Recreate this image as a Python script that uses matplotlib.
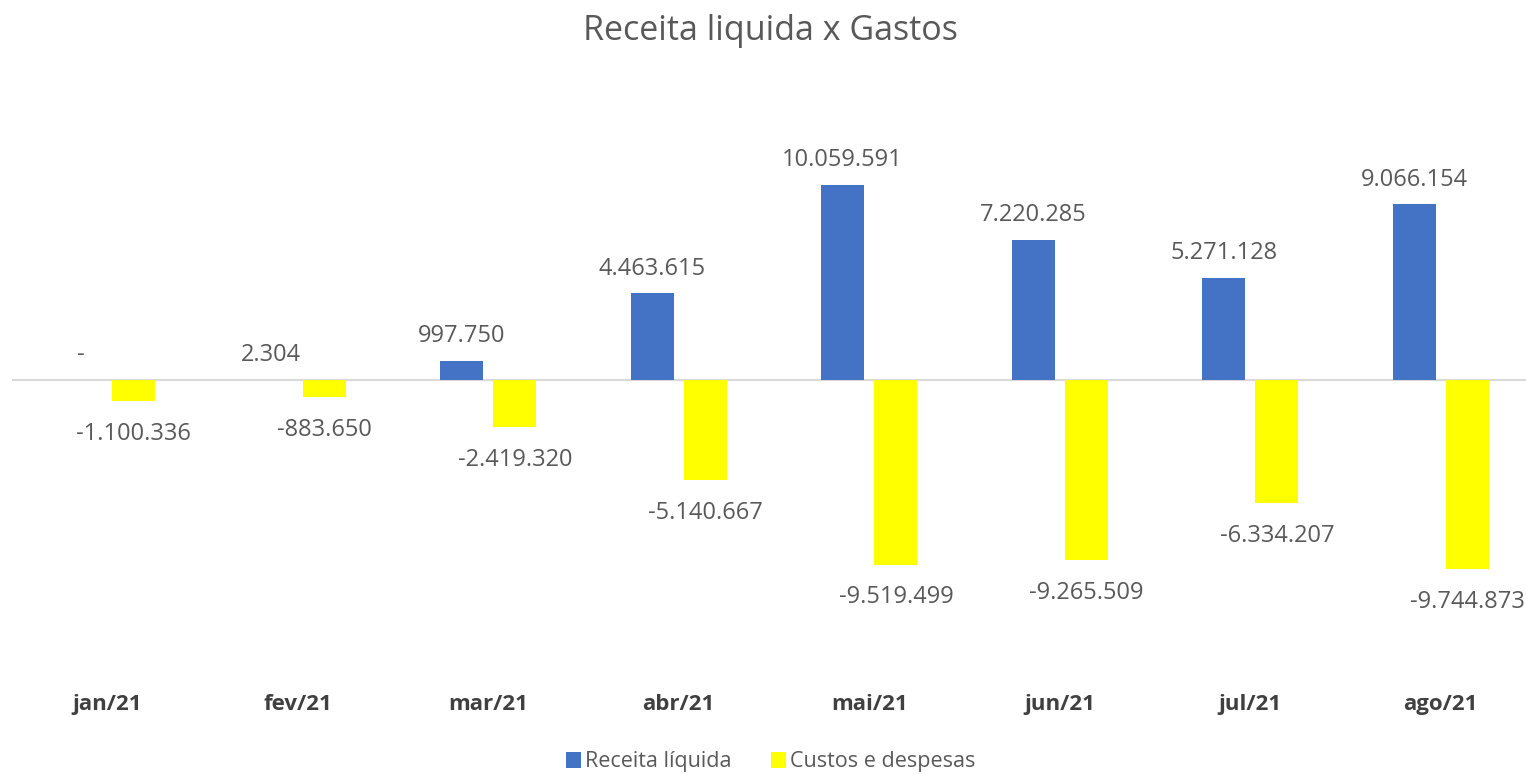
import numpy as np
import matplotlib.pyplot as plt

# Data
meses = ['jan/21', 'fev/21', 'mar/21', 'abr/21', 'mai/21', 'jun/21', 'jul/21', 'ago/21']
receita = [0, 2304, 997750, 4463615, 10059591, 7220285, 5271128, 9066154]
custos = [-1100336, -883650, -2419320, -5140667, -9519499, -9265509, -6334207, -9744873]

plt.rcParams['font.family'] = ['Open Sans', 'DejaVu Sans']

azul = '#4472C4'
amarelo = '#FFFF00'
cinza = '#595959'


def fmt(v):
    if v == 0:
        return '-'
    return f'{v:,}'.replace(',', '.')


fig = plt.figure(figsize=(15.26, 7.74), dpi=100)
ax = fig.add_axes([12 / 1526, 1 - 690 / 774, 1524 / 1526, 590 / 774])

x = np.arange(len(meses))
w = 0.225
off = 0.14
b1 = ax.bar(x - off, receita, w, color=azul, label='Receita líquida', zorder=3)
b2 = ax.bar(x + off, custos, w, color=amarelo, label='Custos e despesas', zorder=3)

ax.axhline(0, color='#D9D9D9', lw=1.5, zorder=2)

for xi, v in zip(x - off, receita):
    ax.annotate(fmt(v), (xi, v), xytext=(0, 9), textcoords='offset points',
                ha='center', va='bottom', fontsize=17, color=cinza)
for xi, v in zip(x + off, custos):
    ax.annotate(fmt(v), (xi, v), xytext=(0, -15), textcoords='offset points',
                ha='center', va='top', fontsize=17, color=cinza)

ax.set_xlim(-0.5, len(meses) - 0.5)
ax.set_ylim(-15.98e6, 14.43e6)
ax.set_xticks(x)
ax.set_xticklabels(meses, fontsize=16, fontweight='bold', color='#404040')
ax.tick_params(axis='x', length=0, pad=3)
ax.set_yticks([])
for s in ax.spines.values():
    s.set_visible(False)

fig.text(0.505, 1 - 31 / 774, 'Receita liquida x Gastos', ha='center', va='center',
         fontsize=24.5, color=cinza)

fig.legend(handles=[b1, b2], loc='center', bbox_to_anchor=(0.505, 1 - 762 / 774),
           ncol=2, frameon=False, fontsize=15.5, labelcolor=cinza,
           handlelength=0.7, handleheight=0.7, handletextpad=0.2, columnspacing=1.8)

fig.savefig('out.png', dpi=100, facecolor='white')
